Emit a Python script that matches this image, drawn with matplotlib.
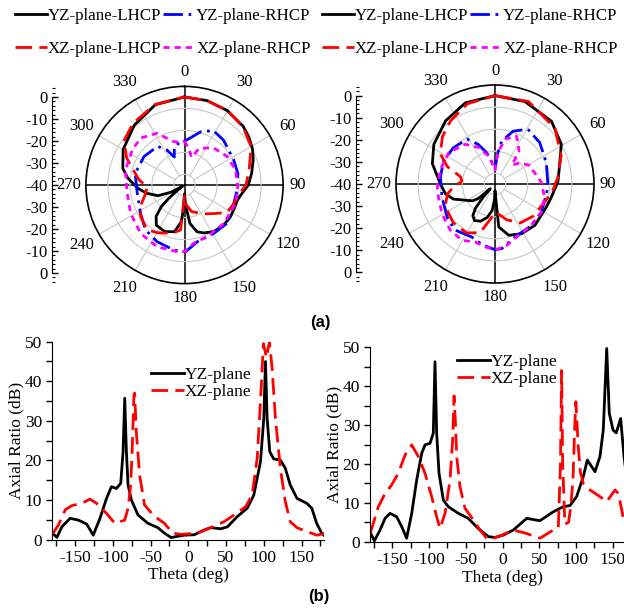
import numpy as np
import matplotlib
matplotlib.use("Agg")
import matplotlib.pyplot as plt
from matplotlib.ticker import MultipleLocator, FixedLocator

plt.rcParams['font.family'] = ['Liberation Serif', 'DejaVu Serif']
plt.rcParams['axes.unicode_minus'] = False

# -----------------------------
# Data
# -----------------------------

# (a) left pattern, angle (deg) / normalised gain (dB)
p1_yz_lhcp_ang = [0, 15, 30, 45, 53, 62, 70, 80, 90, 100, 106, 115, 125, 135, 148, 158, 165, 172, 177, 180,
                  183, 185, 192, 203, 215, 222, 227, 230, 233, 237, 242, 248, 258, 266, 277, 285, 300, 320, 340, 360]
p1_yz_lhcp_db = [0, -0.3, -1, -2.3, -3.5, -5, -6.8, -9, -11, -14, -15, -15, -14.6, -14.5, -15, -16.5, -18, -22.4, -31, -36,
                 -28, -23.3, -18.3, -17, -17.7, -20.7, -25.5, -31, -36.5, -39, -33, -27, -22.2, -18.8, -14, -11, -7.8, -4.5, -1.2, 0]

p1_xz_lhcp_ang = [0, 15, 30, 45, 60, 75, 90, 100, 110, 123, 133, 145, 152, 165, 175, 180, 185, 192, 200, 210,
                  220, 234, 245, 258, 267, 277, 288, 295, 306, 320, 340, 360]
p1_xz_lhcp_db = [0, -0.3, -1, -2.5, -5, -9.5, -12, -15, -16, -17, -21, -24, -25.5, -27.5, -31, -35, -19.5, -18, -16.7, -15,
                 -13.5, -15.4, -18, -22, -23, -19, -15, -11, -6, -3.5, -1, 0]

p1_yz_rhcp_ang = [0, 5, 17, 28, 41, 63, 78, 95, 110, 132, 149, 167, 179, 189, 206, 221, 237, 260, 283, 305,
                  325, 333, 340, 345, 355, 360]
p1_yz_rhcp_db = [-20, -19, -14.7, -12, -13, -14.9, -15.2, -16, -16.1, -14, -14.3, -13.6, -9.7, -10, -11.4, -13, -16.2, -18.2, -17, -17.5,
                 -18.6, -22, -26.5, -22, -20.3, -20]

p1_xz_rhcp_ang = [0, 8, 14, 22, 38, 56, 74, 95, 110, 134, 156, 171, 180, 186, 204, 222, 242, 262, 284, 304,
                  317, 332, 346, 355, 360]
p1_xz_rhcp_db = [-20, -24, -27, -22, -18.6, -16.7, -15.8, -15.7, -15.4, -15, -14.4, -13.2, -9.7, -9.5, -9.3, -10.3, -12.3, -13.7, -12.3, -11.4,
                 -10.8, -13.4, -19.7, -20.5, -20]

# (a) right pattern
p2_yz_lhcp_ang = [0, 20, 42, 59, 73, 88, 103, 114, 136, 152, 165, 175, 180, 182, 186, 193, 201, 209, 215, 219,
                  222, 225, 229, 233, 238, 250, 259, 270, 288, 303, 322, 340, 360]
p2_yz_lhcp_db = [0, -0.3, -1.8, -5, -9.4, -11.5, -13.8, -14.5, -14, -14.5, -16, -20.5, -37, -33, -28, -24.5, -22, -21, -22.5, -26,
                 -32, -37, -30, -27.4, -25.9, -20, -17.1, -15.3, -10.2, -7, -3.7, -0.9, 0]

p2_xz_lhcp_ang = [0, 22, 47, 67, 84, 95, 107, 130, 147, 162, 177, 180, 188, 197, 210, 227, 246, 258, 266, 275,
                  282, 290, 299, 312, 325, 341, 360]
p2_xz_lhcp_db = [0, 0.3, -2.9, -7.5, -11.4, -13.5, -15.7, -17.4, -19, -23, -27, -27, -23.7, -17, -14.4, -14.2, -15.3, -18, -21.2, -25,
                 -24, -17, -11.7, -8, -5, -1.6, 0]

p2_yz_rhcp_ang = [0, 5, 9, 19, 31, 47, 67, 92, 101, 121, 139, 159, 174, 180, 191, 204, 221, 235, 256, 277,
                  294, 311, 328, 337, 345, 352, 360]
p2_yz_rhcp_db = [-33, -26, -20.3, -14.7, -11.1, -12.4, -14.8, -16, -16.3, -15.5, -15, -14.4, -10.6, -10.3, -11.8, -13.8, -12.4, -13.6, -15.3, -15.1,
                 -14.5, -15, -16.1, -20.5, -25.3, -30, -33]

p2_xz_rhcp_ang = [0, 5, 12.5, 24, 30, 36, 42, 50, 62, 71, 88, 105, 121, 140, 160, 171, 180, 189, 199, 210,
                  224, 241, 264, 285, 304, 323, 336, 347, 353, 360]
p2_xz_rhcp_db = [-34, -26, -19.3, -16.2, -19, -21.6, -28.5, -25, -22.2, -21.7, -19, -16.8, -15.5, -15, -13.8, -11.2, -10.3, -11.2, -12.3, -10.5,
                 -10.9, -12.5, -13.6, -14.4, -14.7, -17.5, -21.9, -27, -31, -34]

# (b) left axial ratio, theta (deg) / AR (dB)
ar1_yz_theta = [-180, -174, -167.5, -156.6, -145.6, -134.6, -125.9, -117, -108.3, -101.8, -95.2, -89.5, -86.4, -84.2, -82, -79.8,
                -75.4, -66.7, -53.5, -40.4, -31.6, -22.8, -14, -5.3, 7.9, 21, 29.8, 43, 51.8, 64.9, 78, 86.8, 95.6, 100,
                102.2, 104.4, 107.9, 113.2, 121.9, 128.5, 135, 143.9, 157, 163.6, 170, 176.7, 180]
ar1_yz_ar = [1.6, 0.55, 3.2, 5.35, 4.9, 3.9, 1.1, 5.35, 10.4, 13.35, 12.9, 14.2, 22.2, 35.7, 22.2, 13.8,
             10, 6.2, 4.1, 3, 1.6, 0.5, 0.8, 1.1, 1.2, 2.4, 3, 2.7, 3.2, 5.8, 7.9, 11.25, 19.7, 30.6,
             45, 30.6, 22.2, 20.35, 20.1, 18, 13.8, 10.4, 9.15, 7.9, 4.1, 1.6, 1.0]

ar1_xz_theta = [-180, -172, -163, -154.4, -141.2, -130.3, -121.5, -108.3, -97.4, -84.2, -79.8, -76.3, -74.1, -72, -71.1,
                -68.9, -64.5, -57.9, -44.7, -31.6, -20.6, -9.6, 12.3, 29.8, 47.4, 60.5, 75.9, 84.6, 91.2, 95.6,
                99.5, 103.5, 107.5, 111, 115.4, 121.9, 128.5, 135, 143.9, 157, 170, 180]
ar1_xz_ar = [1.3, 3.7, 7.5, 8.55, 9.15, 10.2, 9.15, 6.6, 4.1, 4.9, 7.9, 13.8, 23.9, 36.5, 37,
             27.3, 16.3, 8.7, 5.8, 4.1, 1.6, 1.3, 1.6, 3, 4.5, 6.2, 8.3, 11.25, 20.5, 34.8,
             49.5, 46, 50, 43.3, 30.6, 18, 9.6, 4.5, 3, 2, 1.1, 1.5]

# (b) right axial ratio
ar2_yz_theta = [-180, -174.6, -166.9, -160, -153.3, -144.2, -137.4, -130.6, -123.7, -116.9, -110.1, -105.6, -98.8, -94.3,
                -92, -89.7, -86.5, -80.6, -73.8, -60.2, -46.6, -33, -19.3, -10.2, 1.1, 14.7, 33, 51, 69.2, 82.8,
                92, 101, 110, 115.6, 121.5, 126, 132.8, 137.3, 142, 145.5, 150.7, 155, 161, 165.5, 170, 180]
ar2_yz_ar = [2.3, 0.2, 3, 6, 7.3, 6.4, 3.9, 0.9, 7.3, 15.9, 22.7, 24.9, 25.3, 27.9,
             46.3, 27.9, 17.6, 10.7, 9, 7.3, 6, 3.4, 1.3, 1.1, 1.7, 3, 6, 5.4, 7.7, 9,
             9.3, 11.6, 16.7, 21, 19.3, 18, 21.9, 28.7, 49.7, 33, 28.7, 28, 31.7, 22, 15, 10]

ar2_xz_theta = [-180, -169.2, -160, -151, -142, -132.8, -123.7, -114.7, -105.6, -96.5, -89.7, -85.1, -78.3, -71.5, -67.9,
                -66, -64, -62.4, -57.9, -51.1, -39.7, -30.7, -21.6, -18, -3.4, 14.7, 33, 51, 69.2, 76,
                79, 80.5, 82, 85, 90, 93, 96, 98.5, 100, 103, 106, 110, 119.2, 132.8, 142, 153.3,
                157.8, 162.4, 164.7, 170, 180]
ar2_xz_ar = [2.3, 9, 12.4, 14.6, 17.6, 22.3, 24.9, 21.9, 17.6, 11.6, 6.4, 3.4, 7.3, 15.9, 26.2,
             37.5, 30, 21.9, 14.1, 8.6, 5.6, 3, 0.9, 0.5, 1.5, 3, 2.1, 0.9, 3, 3.5,
             20, 44, 20, 4.5, 5, 9, 16, 30, 36, 25, 18, 15, 13.3, 11.6, 10.3, 13.3,
             12.4, 8.2, 6, 5, 4]

angle_ticks = list(range(0, 360, 30))
ar_labels = ["YZ-plane", "XZ-plane"]
pattern_labels = ["YZ-plane-LHCP", "YZ-plane-RHCP", "XZ-plane-LHCP", "XZ-plane-RHCP"]

# -----------------------------
# Styles
# -----------------------------

W, H = 624, 614
RMIN, RMAX = -40, 4.8
styles = {
    "yz_lhcp": dict(color="black", lw=2.0, ls="-"),
    "yz_rhcp": dict(color="#0000ff", lw=2.0, ls=(0, (7, 2, 1, 2))),
    "xz_lhcp": dict(color="#ff0000", lw=2.0, ls=(0, (6, 2.6))),
    "xz_rhcp": dict(color="#ff00ff", lw=2.0, ls=(0, (2.2, 1.8))),
}

fig = plt.figure(figsize=(W / 100, H / 100), dpi=100)


def fx(px):
    return px / W


def fy(py):
    return 1 - py / H


def polar_panel(cx, cy, rad, spine_x, curves):
    ax = fig.add_axes([fx(cx - rad), fy(cy + rad), 2 * rad / W, 2 * rad / H], projection="polar")
    ax.set_theta_zero_location("N")
    ax.set_theta_direction(-1)
    ax.set_ylim(RMIN, RMAX)
    ax.set_yticks([-35.2, -25.2, -15.2, -5.2])
    ax.set_yticklabels([])
    ax.yaxis.grid(True, color="#c8c8c8", lw=0.8)
    ax.set_xticks([])
    ax.xaxis.grid(False)
    ax.spines["polar"].set_linewidth(1.2)
    for a in angle_ticks:
        t = np.deg2rad(a)
        if a % 90:
            ax.plot([t, t], [-35.2, RMAX], color="#c8c8c8", lw=0.8, zorder=1)
        else:
            ax.plot([t, t], [RMIN, RMAX], color="black", lw=1.1, zorder=1)
        rp = 113 if a in (0, 90, 180) else (116 if a == 270 else 119)
        ax.text(t, RMIN + rp * (RMAX - RMIN) / rad, str(a), ha="center", va="center",
                fontsize=12, clip_on=False)
    lines = []
    for key, ang, db in curves:
        ln, = ax.plot(np.deg2rad(ang), db, zorder=3, **styles[key])
        lines.append(ln)

    # radial scale drawn as a separate vertical axis
    sx = fig.add_axes([fx(spine_x), fy(cy + rad), 0.002, 2 * rad / H])
    sx.patch.set_visible(False)
    sx.set_ylim(-(RMAX - RMIN), RMAX - RMIN)
    for s in ("top", "right", "bottom"):
        sx.spines[s].set_visible(False)
    sx.spines["left"].set_bounds(-40, 40)
    sx.set_xticks([])
    sx.yaxis.set_major_locator(FixedLocator(list(range(-40, 41, 10))))
    sx.set_yticklabels([str(abs(v) - 40) for v in range(-40, 41, 10)])
    sx.yaxis.set_minor_locator(MultipleLocator(2))
    sx.tick_params(axis="y", which="major", direction="in", length=4, width=1, labelsize=12, pad=3)
    sx.tick_params(axis="y", which="minor", direction="in", length=2.5, width=0.8)
    return lines


l1 = polar_panel(184.5, 185, 98.6, 52, [
    ("yz_lhcp", p1_yz_lhcp_ang, p1_yz_lhcp_db),
    ("yz_rhcp", p1_yz_rhcp_ang, p1_yz_rhcp_db),
    ("xz_lhcp", p1_xz_lhcp_ang, p1_xz_lhcp_db),
    ("xz_rhcp", p1_xz_rhcp_ang, p1_xz_rhcp_db),
])
l2 = polar_panel(495, 184, 99, 356, [
    ("yz_lhcp", p2_yz_lhcp_ang, p2_yz_lhcp_db),
    ("yz_rhcp", p2_yz_rhcp_ang, p2_yz_rhcp_db),
    ("xz_lhcp", p2_xz_lhcp_ang, p2_xz_lhcp_db),
    ("xz_rhcp", p2_xz_rhcp_ang, p2_xz_rhcp_db),
])

for lines, x0 in ((l1, 15), (l2, 322)):
    order = [lines[0], lines[2], lines[1], lines[3]]
    labs = [pattern_labels[0], pattern_labels[2], pattern_labels[1], pattern_labels[3]]
    fig.legend(order, labs, loc="upper left", bbox_to_anchor=(fx(x0), fy(8)), ncol=2, frameon=False,
               fontsize=12.2, handlelength=1.9, handletextpad=0.05, columnspacing=0.1,
               labelspacing=1.0, borderpad=0, borderaxespad=0)


# -----------------------------
# Axial ratio panels
# -----------------------------

def ar_panel(x_left, x_right, y_zero, y_fifty, yz, xz, leg_xy):
    ax = fig.add_axes([fx(x_left), fy(y_zero), (x_right - x_left) / W, (y_zero - y_fifty) / H])
    ax.plot(yz[0], yz[1], color="black", lw=2.0, label=ar_labels[0])
    ax.plot(xz[0], xz[1], color="#ff0000", lw=2.0, ls=(0, (6, 2.6)), label=ar_labels[1])
    ax.set_xlim(-180, 180)
    ax.set_ylim(0, 50)
    ax.spines["top"].set_visible(False)
    ax.spines["right"].set_visible(False)
    ax.xaxis.set_major_locator(MultipleLocator(50))
    ax.xaxis.set_minor_locator(MultipleLocator(25))
    ax.yaxis.set_major_locator(MultipleLocator(10))
    ax.yaxis.set_minor_locator(MultipleLocator(5))
    ax.tick_params(which="both", direction="out", length=4, width=1, labelsize=12.5)
    ax.set_xlabel("Theta (deg)", fontsize=12.5, labelpad=1)
    ax.set_ylabel("Axial Ratio (dB)", fontsize=12.5, labelpad=0)
    ax.legend(loc="upper left", bbox_to_anchor=(fx(leg_xy[0]), fy(leg_xy[1])), bbox_transform=fig.transFigure,
              frameon=False, fontsize=12.5, handlelength=1.9, handletextpad=0.05,
              labelspacing=0.05, borderpad=0, borderaxespad=0)
    return ax


ar_panel(52.4, 324.2, 539.5, 341.7, (ar1_yz_theta, ar1_yz_ar), (ar1_xz_theta, ar1_xz_ar), (151, 367))
ar_panel(370.4, 634.6, 541.7, 347.3, (ar2_yz_theta, ar2_yz_ar), (ar2_xz_theta, ar2_xz_ar), (457, 354))

fig.text(fx(320), fy(322), "(a)", family="Liberation Sans", fontweight="bold", fontsize=12,
         ha="center", va="center")
fig.text(fx(319), fy(597), "(b)", family="Liberation Sans", fontweight="bold", fontsize=12,
         ha="center", va="center")

fig.savefig("out.png", dpi=100)
